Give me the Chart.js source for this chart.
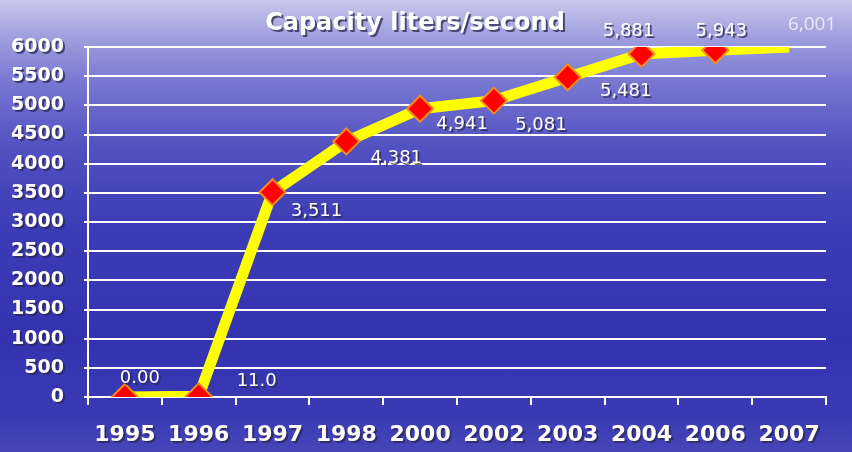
<!DOCTYPE html>
<html>
<head>
<meta charset="utf-8">
<script src="https://cdn.jsdelivr.net/npm/chart.js@4"></script>
<style>
  html, body { margin: 0; padding: 0; }
  body {
    width: 852px; height: 452px; overflow: hidden;
    background: linear-gradient(to bottom, #c8c8ec 0%, #a4a4e0 7%, #7878d2 18%, #5252c2 32%, #3c3cb6 50%, #3333b0 75%, #3a3ab4 92%, #4646b8 100%);
  }
  #wrap { position: relative; width: 852px; height: 452px; }
</style>
</head>
<body>
<div id="wrap"><canvas id="myChart" width="852" height="452"></canvas></div>
<script>
// data
const years = ['1995', '1996', '1997', '1998', '2000', '2002', '2003', '2004', '2006', '2007'];
const capacity = [0, 11, 3511, 4381, 4941, 5081, 5481, 5881, 5943, 6001];
const valueLabels = ['0.00', '11.0', '3,511', '4,381', '4,941', '5,081', '5,481', '5,881', '5,943', '6,001'];
const yMin = 0, yMax = 6000, yStep = 500;
const chartTitle = 'Capacity liters/second';

// where each value label sits relative to its point
const labelOffsets = [[15, -19], [58, -15], [44, 19], [50, 17], [42, 16], [47, 25], [58, 14], [-13, -23], [6, -19], [23, -22]];

const shadowText = function (ctx) {
    ctx.shadowColor = 'rgba(40,40,80,0.75)';
    ctx.shadowOffsetX = 2;
    ctx.shadowOffsetY = 2;
    ctx.shadowBlur = 0;
};

const decor = {
    id: 'decor',
    afterLayout(chart) {
        Object.values(chart.scales).forEach(function (s) {
            if (s._patched) return;
            const orig = s.drawLabels.bind(s);
            s.drawLabels = function (area) {
                const ctx = chart.ctx;
                ctx.save();
                shadowText(ctx);
                orig(area);
                ctx.restore();
            };
            s._patched = true;
        });
    },
    afterDatasetsDraw(chart) {
        const ctx = chart.ctx;
        const pts = chart.getDatasetMeta(0).data;
        ctx.save();
        ctx.textAlign = 'center';
        ctx.textBaseline = 'middle';
        pts.forEach(function (p, i) {
            const off = labelOffsets[i];
            ctx.save();
            if (i === pts.length - 1) {
                ctx.font = '19px "Open Sans"';
                ctx.fillStyle = 'rgba(240,240,250,0.9)';
            } else {
                ctx.font = '18px "DejaVu Sans"';
                ctx.fillStyle = '#ffffff';
                shadowText(ctx);
            }
            ctx.fillText(valueLabels[i], p.x + off[0], p.y + off[1]);
            ctx.restore();
        });
        // title
        ctx.font = 'bold 24px "DejaVu Sans"';
        ctx.textBaseline = 'alphabetic';
        ctx.fillStyle = '#ffffff';
        shadowText(ctx);
        ctx.fillText(chartTitle, 415, 30);
        ctx.restore();
    }
};

var ctx = document.getElementById('myChart').getContext('2d');

var myChart = new Chart(ctx, {
    type: 'line',
    data: {
        labels: years,
        datasets: [{
            label: chartTitle,
            data: capacity,
            borderColor: '#ffff00',
            borderWidth: 11,
            borderJoinStyle: 'round',
            tension: 0,
            pointStyle: 'rectRot',
            pointRadius: capacity.map((v, i) => i === capacity.length - 1 ? 0 : 13),
            pointBackgroundColor: '#ff0000',
            pointBorderColor: '#f58a1f',
            pointBorderWidth: 2
        }]
    },
    plugins: [decor],
    options: {
        responsive: false,
        animation: false,
        layout: { padding: { top: 47, right: 26, left: 0, bottom: 0 } },
        plugins: {
            legend: { display: false },
            title: { display: false },
            tooltip: { enabled: false }
        },
        scales: {
            x: {
                offset: true,
                afterFit(s) { s.height = 55; },
                grid: { offset: true, drawOnChartArea: false, drawTicks: true, tickLength: 8, color: '#ffffff', lineWidth: 2 },
                border: { color: '#ffffff', width: 2 },
                ticks: {
                    color: '#ffffff',
                    padding: 17,
                    maxRotation: 0,
                    autoSkip: false,
                    font: { family: 'DejaVu Sans', size: 22, weight: 'bold' }
                }
            },
            y: {
                min: yMin,
                max: yMax,
                afterFit(s) { s.width = 88; },
                grid: { color: '#ffffff', lineWidth: 2, drawTicks: true, tickLength: 4 },
                border: { color: '#ffffff', width: 2 },
                ticks: {
                    stepSize: yStep,
                    color: '#ffffff',
                    padding: 20,
                    callback: (v) => String(v),
                    font: { family: 'DejaVu Sans', size: 19, weight: 'bold' }
                }
            }
        }
    }
});
</script>
</body>
</html>
